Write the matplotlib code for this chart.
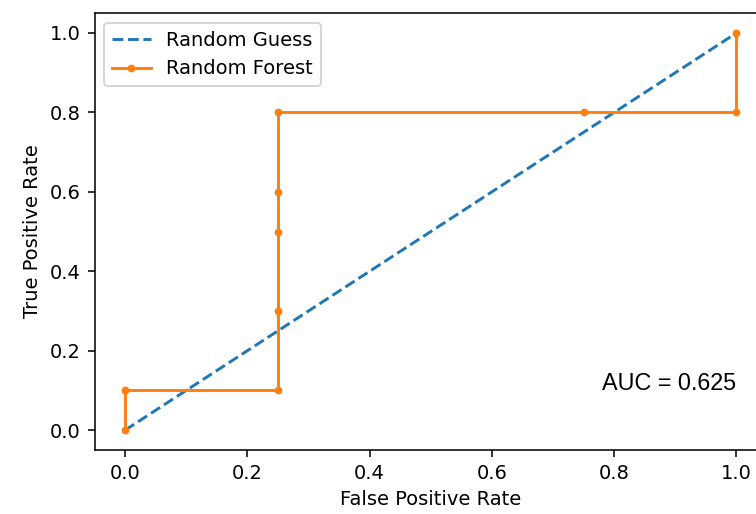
import matplotlib
matplotlib.use("Agg")
import matplotlib.pyplot as plt

# dados da curva ROC
fpr = [0.0, 0.0, 0.25, 0.25, 0.25, 0.25, 0.25, 0.75, 1.0, 1.0]
tpr = [0.0, 0.1, 0.1, 0.3, 0.5, 0.6, 0.8, 0.8, 0.8, 1.0]
guess = [0.0, 1.0]
auc = 0.625

fig = plt.figure(figsize=(756 / 140, 514 / 140), dpi=140)
ax = fig.add_axes([0.125, 0.1245, 0.8896, 0.850])

ax.plot(guess, guess, linestyle="--", label="Random Guess")
ax.plot(fpr, tpr, marker=".", label="Random Forest")
ax.text(0.78, 0.1, "AUC = %.3f" % auc, fontsize=12, family="Liberation Sans")

ax.set_xlabel("False Positive Rate")
ax.set_ylabel("True Positive Rate")
ax.legend(loc="upper left")

fig.savefig("out.png", dpi=140)
